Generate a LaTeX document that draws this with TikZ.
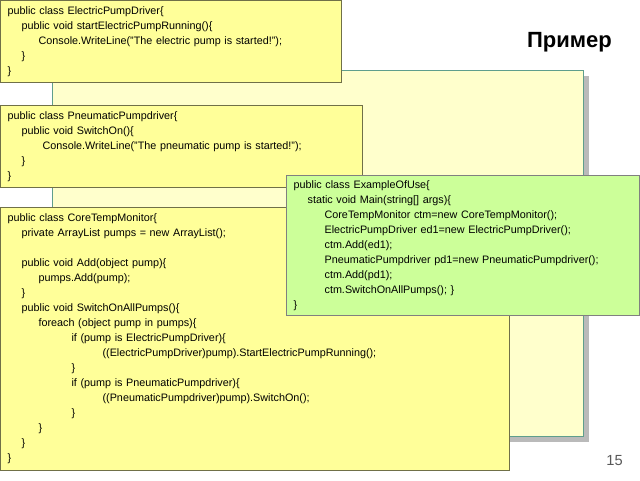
\documentclass[tikz,border=0pt]{standalone}
\usepackage{fontspec}
\setmainfont{Liberation Sans}
\usetikzlibrary{shadows}

\definecolor{codeyellow}{RGB}{255,255,153}
\definecolor{codeline}{RGB}{112,112,72}
\definecolor{slidefill}{RGB}{255,255,204}
\definecolor{slideline}{RGB}{95,158,140}
\definecolor{usegreen}{RGB}{204,255,153}
\definecolor{useline}{RGB}{128,128,128}

\newcommand{\indI}{\hspace*{10.5pt}}
\newcommand{\indII}{\hspace*{23.25pt}}
\newcommand{\indIII}{\hspace*{48pt}}
\newcommand{\indIV}{\hspace*{71.25pt}}

\begin{document}
\begin{tikzpicture}[x=0.75pt,y=-0.75pt,
  code/.style={draw=codeline,fill=codeyellow,line width=0.9pt,anchor=north west,
    align=left,inner xsep=5.25pt,inner ysep=0pt,
    font=\fontsize{8.1pt}{11.25pt}\selectfont},
  slide/.style={draw=slideline,fill=slidefill,line width=1.1pt,anchor=north west,
    minimum width=398.25pt,minimum height=274.5pt,inner sep=0pt,
    drop shadow={shadow xshift=3.75pt,shadow yshift=-3.75pt,fill=black!45,opacity=.6}}]
\useasboundingbox (0,0) rectangle (640,480);
\fill[white] (0,0) rectangle (640,480);

\node[slide] (slide) at (52,70) {};

\node[font=\fontsize{16.5pt}{18pt}\selectfont\bfseries,anchor=base east,inner sep=0pt] (title) at (612,47) {Пример};
\node[font=\fontsize{11pt}{13pt}\selectfont,text=black!65,anchor=base east,inner sep=0pt] (pagenum) at (623,465) {15};

% pump drivers
\node[code,text width=245.25pt,minimum height=61.5pt] (electric) at (0,0) {public class ElectricPumpDriver\{\\
\indI public void startElectricPumpRunning()\{\\
\indII Console.WriteLine("The electric pump is started!");\\
\indI \}\\
\}};
\node[code,text width=261pt,minimum height=61.5pt] (pneumatic) at (0,105) {public class PneumaticPumpdriver\{\\
\indI public void SwitchOn()\{\\
\hspace*{26.25pt}Console.WriteLine("The pneumatic pump is started!");\\
\indI \}\\
\}};

% monitor
\node[code,text width=371.25pt,minimum height=197.25pt] (monitor) at (0,207) {public class CoreTempMonitor\{\\
\indI private ArrayList pumps = new ArrayList();\\
\mbox{}\\
\indI public void Add(object pump)\{\\
\indII pumps.Add(pump);\\
\indI \}\\
\indI public void SwitchOnAllPumps()\{\\
\indII foreach (object pump in pumps)\{\\
\indIII if (pump is ElectricPumpDriver)\{\\
\indIV ((ElectricPumpDriver)pump).StartElectricPumpRunning();\\
\indIII \}\\
\indIII if (pump is PneumaticPumpdriver)\{\\
\indIV ((PneumaticPumpdriver)pump).SwitchOn();\\
\indIII \}\\
\indII \}\\
\indI \}\\
\}};

% usage
\node[code,draw=useline,fill=usegreen,text width=254.25pt,minimum height=105pt] (usage) at (286,175) {public class ExampleOfUse\{\\
\indI static void Main(string[] args)\{\\
\indII CoreTempMonitor ctm=new CoreTempMonitor();\\
\indII ElectricPumpDriver ed1=new ElectricPumpDriver();\\
\indII ctm.Add(ed1);\\
\indII PneumaticPumpdriver pd1=new PneumaticPumpdriver();\\
\indII ctm.Add(pd1);\\
\indII ctm.SwitchOnAllPumps(); \}\\
\}};
\end{tikzpicture}
\end{document}
